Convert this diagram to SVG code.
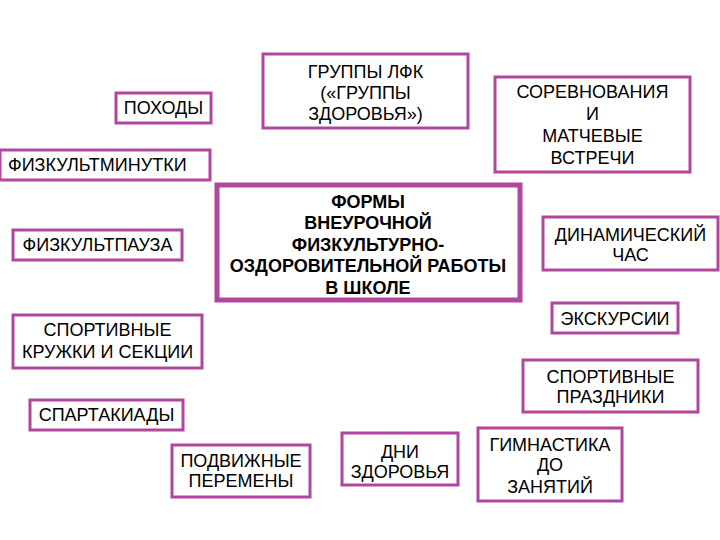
<svg xmlns="http://www.w3.org/2000/svg" width="720" height="540" viewBox="0 0 720 540">
<style>
.b{fill:#fff;stroke:#b0469e;stroke-width:3}
.c{fill:#fff;stroke:#b0469e;stroke-width:5}
text{font-family:"Liberation Sans",Arial,sans-serif;font-size:18px;fill:#000;text-anchor:middle}
.bold{font-weight:bold}
.l{text-anchor:start}
</style>
<rect width="720" height="540" fill="#fff"/>
<g id="connectors"></g>
<g id="center"><rect class="c" x="217" y="185" width="303" height="115"/>
<text class="bold" x="368" y="208">ФОРМЫ</text><text class="bold" x="368" y="229">ВНЕУРОЧНОЙ</text><text class="bold" x="368" y="251">ФИЗКУЛЬТУРНО-</text><text class="bold" x="368" y="272">ОЗДОРОВИТЕЛЬНОЙ РАБОТЫ</text><text class="bold" x="368" y="294">В ШКОЛЕ</text></g>
<g id="pohody"><rect class="b" x="116" y="93" width="95" height="30"/><text x="163.5" y="114">ПОХОДЫ</text></g>
<g id="gruppy"><rect class="b" x="263" y="54" width="205" height="74"/><text x="365.5" y="78">ГРУППЫ ЛФК</text><text x="365.5" y="99">(«ГРУППЫ</text><text x="365.5" y="120">ЗДОРОВЬЯ»)</text></g>
<g id="sorevnovaniya"><rect class="b" x="495" y="77" width="195" height="95"/><text x="592.5" y="98">СОРЕВНОВАНИЯ</text><text x="592.5" y="120">И</text><text x="592.5" y="142">МАТЧЕВЫЕ</text><text x="592.5" y="164">ВСТРЕЧИ</text></g>
<g id="fizkultminutki"><rect class="b" x="0" y="150" width="210" height="30"/><text class="l" x="8" y="171">ФИЗКУЛЬТМИНУТКИ</text></g>
<g id="fizkultpauza"><rect class="b" x="13" y="230" width="169" height="30"/><text x="97.5" y="251">ФИЗКУЛЬТПАУЗА</text></g>
<g id="dinamicheskiy"><rect class="b" x="543" y="217" width="175" height="53"/><text x="630.5" y="241">ДИНАМИЧЕСКИЙ</text><text x="630.5" y="261">ЧАС</text></g>
<g id="kruzhki"><rect class="b" x="13" y="315" width="189" height="53"/><text x="107.5" y="336">СПОРТИВНЫЕ</text><text x="107.5" y="358">КРУЖКИ И СЕКЦИИ</text></g>
<g id="ekskursii"><rect class="b" x="552" y="303" width="126" height="30"/><text x="615" y="325">ЭКСКУРСИИ</text></g>
<g id="prazdniki"><rect class="b" x="523" y="360" width="175" height="52"/><text x="610.5" y="383">СПОРТИВНЫЕ</text><text x="610.5" y="403">ПРАЗДНИКИ</text></g>
<g id="spartakiady"><rect class="b" x="30" y="400" width="153" height="30"/><text x="106.5" y="421">СПАРТАКИАДЫ</text></g>
<g id="peremeny"><rect class="b" x="172" y="445" width="138" height="52"/><text x="241" y="467">ПОДВИЖНЫЕ</text><text x="241" y="487">ПЕРЕМЕНЫ</text></g>
<g id="dni"><rect class="b" x="342" y="433" width="116" height="52"/><text x="400" y="458">ДНИ</text><text x="400" y="478">ЗДОРОВЬЯ</text></g>
<g id="gimnastika"><rect class="b" x="478" y="428" width="144" height="73"/><text x="550" y="451">ГИМНАСТИКА</text><text x="550" y="471">ДО</text><text x="550" y="493">ЗАНЯТИЙ</text></g>
</svg>
